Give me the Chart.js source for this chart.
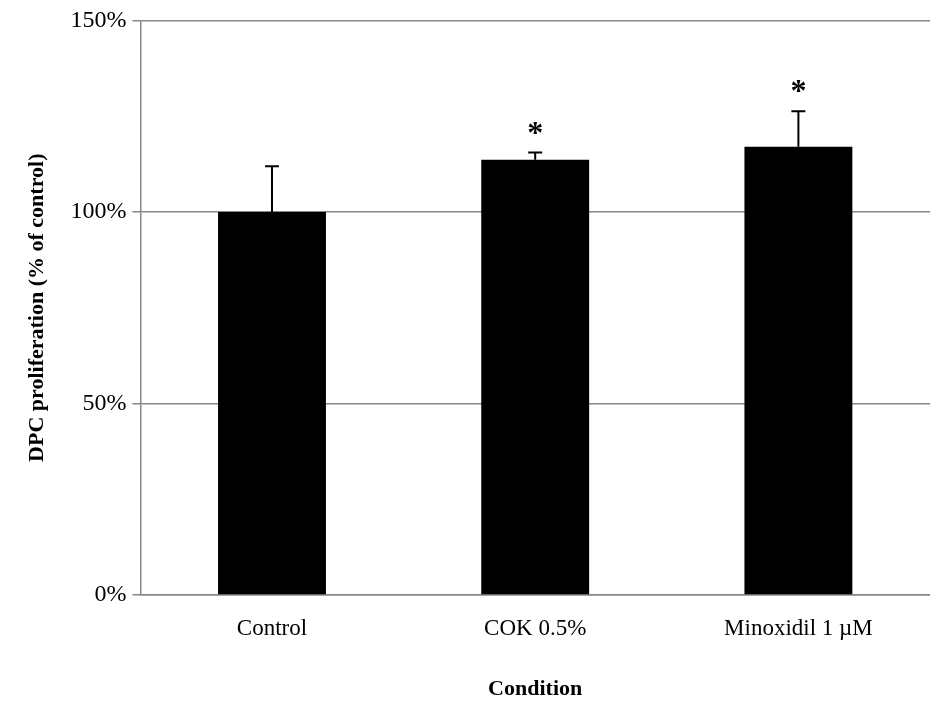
<!DOCTYPE html>
<html>
<head>
<style>
  html, body { margin: 0; padding: 0; background: #fff; }
  #wrap { width: 930px; height: 709px; }
</style>
<script src="https://cdn.jsdelivr.net/npm/chart.js@4"></script>
</head>
<body>
<div id="wrap"><canvas id="prolifChart"></canvas></div>
<script>
// Proliferation data (% of control)
const conditions = ['Control', 'COK 0.5%', 'Minoxidil 1 \u00b5M'];
const means = [100, 113.6, 117];
const errors = [11.9, 1.9, 9.3];
const significant = [false, true, true];

// Error bars + significance stars
const errorBarPlugin = {
    id: 'errorBars',
    afterDatasetsDraw(chart) {
        const ctx = chart.ctx;
        const y = chart.scales.y;
        const meta = chart.getDatasetMeta(0);
        ctx.save();
        ctx.strokeStyle = '#000';
        ctx.lineWidth = 2;
        meta.data.forEach((bar, i) => {
            const top = y.getPixelForValue(means[i] + errors[i]);
            ctx.beginPath();
            ctx.moveTo(bar.x, bar.y);
            ctx.lineTo(bar.x, top);
            ctx.moveTo(bar.x - 7, top);
            ctx.lineTo(bar.x + 7, top);
            ctx.stroke();
            if (significant[i]) {
                ctx.fillStyle = '#000';
                ctx.font = 'bold 32px "Liberation Serif"';
                ctx.textAlign = 'center';
                ctx.textBaseline = 'bottom';
                ctx.fillText('*', bar.x, top - 2);
            }
        });
        ctx.restore();
    }
};

new Chart(document.getElementById('prolifChart'), {
    type: 'bar',
    data: {
        labels: conditions,
        datasets: [{
            data: means,
            backgroundColor: '#000',
            borderWidth: 0,
            barPercentage: 0.41,
            categoryPercentage: 1
        }]
    },
    options: {
        responsive: true,
        maintainAspectRatio: false,
        animation: false,
        layout: { padding: { top: 0, right: 0, bottom: 2, left: 20 } },
        plugins: { legend: { display: false }, tooltip: { enabled: false } },
        scales: {
            y: {
                min: 0,
                max: 150,
                ticks: {
                    stepSize: 50,
                    color: '#000',
                    padding: 6,
                    font: { family: 'Liberation Serif', size: 24 },
                    callback: v => v + '%'
                },
                grid: { color: '#888', lineWidth: 1.5, drawTicks: true, tickLength: 8 },
                border: { color: '#888', width: 1.5 },
                title: {
                    display: true,
                    text: 'DPC proliferation (% of control)',
                    color: '#000',
                    padding: { bottom: 14 },
                    font: { family: 'Liberation Serif', size: 22, weight: 'bold' }
                }
            },
            x: {
                ticks: { color: '#000', font: { family: 'Liberation Serif', size: 23 }, padding: 12 },
                grid: { display: false },
                border: { color: '#888', width: 1.5 },
                title: {
                    display: true,
                    text: 'Condition',
                    color: '#000',
                    padding: { top: 22 },
                    font: { family: 'Liberation Serif', size: 22, weight: 'bold' }
                }
            }
        }
    },
    plugins: [errorBarPlugin]
});
</script>
</body>
</html>
